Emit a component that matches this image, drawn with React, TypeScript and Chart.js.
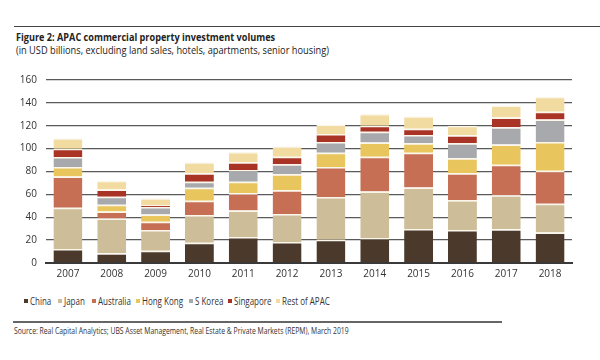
import React, { useEffect, useRef } from "react";
import { Chart, registerables } from "chart.js";

Chart.register(...registerables);

const years = ["2007", "2008", "2009", "2010", "2011", "2012", "2013", "2014", "2015", "2016", "2017", "2018"];
const china = [12.2, 8.5, 10.8, 17.8, 22.7, 18.4, 20.4, 21.8, 29.7, 28.9, 29.5, 26.6];
const japan = [36, 30.5, 18.1, 24.2, 23.2, 24.4, 37.4, 40.8, 36.3, 26.1, 29.7, 25.2];
const australia = [27.4, 6, 7.1, 12.4, 15.1, 20.7, 26.2, 30.4, 30.3, 23.5, 26.6, 28.9];
const hongKong = [8.4, 6, 6.5, 11.3, 10, 14.1, 12.3, 12.4, 8.5, 13, 17.9, 25];
const sKorea = [8.6, 7, 6.5, 5.3, 10.3, 8.8, 9.4, 9.3, 7.2, 13.3, 15, 19.8];
const singapore = [7.4, 6.3, 1.7, 7.5, 6.7, 6.6, 7, 5.3, 5.3, 6.8, 8.5, 6.8];
const restOfApac = [9, 7.7, 6, 9.5, 9, 9, 8.3, 10.3, 11, 8.4, 10.5, 13];

const seriesNames = ["China", "Japan", "Australia", "Hong Kong", "S Korea", "Singapore", "Rest of APAC"];
const seriesValues = [china, japan, australia, hongKong, sKorea, singapore, restOfApac];
const seriesColors = ["#4b3a2c", "#cdbd99", "#c66f55", "#e9c55e", "#a8a9ad", "#a93426", "#f1dba0"];
const yTicks = [0, 20, 40, 60, 80, 100, 120, 140, 160];

const title = "Figure 2: APAC commercial property investment volumes";
const subtitle = "(in USD billions, excluding land sales, hotels, apartments, senior housing)";
const source = "Source: Real Capital Analytics; UBS Asset Management, Real Estate & Private Markets (REPM), March 2019";

const legendX = [24, 58, 92, 136, 189, 228, 276];

const FONT = "'Open Sans', sans-serif";

export default function App() {
  const ref = useRef<HTMLCanvasElement | null>(null);

  useEffect(() => {
    if (!ref.current) return;
    const chart = new Chart(ref.current, {
      type: "bar",
      data: {
        labels: years,
        datasets: seriesNames.map((name, i) => ({
          label: name,
          data: seriesValues[i],
          backgroundColor: seriesColors[i],
          borderColor: "#fbf6ea",
          borderWidth: { top: 1.5, left: 0, right: 0, bottom: 0 },
          borderSkipped: false,
          barPercentage: 0.66,
          categoryPercentage: 1,
        })),
      },
      options: {
        animation: false,
        responsive: false,
        maintainAspectRatio: false,
        layout: { padding: { top: 10, right: 28, left: 0, bottom: 0 } },
        plugins: { legend: { display: false }, tooltip: { enabled: false }, title: { display: false } },
        scales: {
          x: {
            stacked: true,
            grid: { display: false, drawTicks: false },
            border: { display: true, color: "#3a3a3a", width: 2 },
            ticks: { color: "#333", font: { family: FONT, size: 10 }, padding: 5 },
            afterFit: (s: any) => { s.height = 20; },
          },
          y: {
            stacked: true,
            min: 0,
            max: 160,
            afterBuildTicks: (s: any) => { s.ticks = yTicks.map((v) => ({ value: v })); },
            grid: { color: "#5a5a5a", lineWidth: 1.3, drawTicks: false },
            border: { display: false },
            ticks: { color: "#333", font: { family: FONT, size: 10 }, padding: 9 },
            afterFit: (s: any) => { s.width = 46; },
          },
        },
      },
    });
    return () => chart.destroy();
  }, []);

  const squeeze = (sx: number): React.CSSProperties => ({ transform: `scaleX(${sx})`, transformOrigin: "left center", display: "inline-block" });

  return (
    <div style={{ position: "fixed", left: 0, top: 0, width: 600, height: 360, background: "#fff", fontFamily: FONT, color: "#222", overflow: "hidden" }}>
      <div style={{ position: "absolute", left: 14, top: 26, width: 586, height: 0, borderTop: "1.5px solid #444" }} />
      <div style={{ position: "absolute", left: 16, top: 30, fontSize: 11, fontWeight: "bold", whiteSpace: "nowrap", lineHeight: "14px" }}>
        <span style={squeeze(0.83)}>{title}</span>
      </div>
      <div style={{ position: "absolute", left: 16, top: 43, fontSize: 11, whiteSpace: "nowrap", lineHeight: "14px" }}>
        <span style={squeeze(0.84)}>{subtitle}</span>
      </div>
      <canvas ref={ref} width={600} height={218} style={{ position: "absolute", left: 0, top: 65, width: 600, height: 218 }} />
      {seriesNames.map((n, i) => (
        <div key={n} style={{ position: "absolute", left: legendX[i], top: 295, fontSize: 10, lineHeight: "12px", whiteSpace: "nowrap", color: "#333", display: "flex", alignItems: "center" }}>
          <span style={{ display: "inline-block", width: 4, height: 4, background: seriesColors[i], marginRight: 2 }} />
          <span style={squeeze(0.8)}>{n}</span>
        </div>
      ))}
      <div style={{ position: "absolute", left: 13, top: 321, width: 489, height: 0, borderTop: "2px solid #666" }} />
      <div style={{ position: "absolute", left: 14, top: 325, fontSize: 9, lineHeight: "11px", whiteSpace: "nowrap", color: "#333" }}>
        <span style={squeeze(0.76)}>{source}</span>
      </div>
    </div>
  );
}
